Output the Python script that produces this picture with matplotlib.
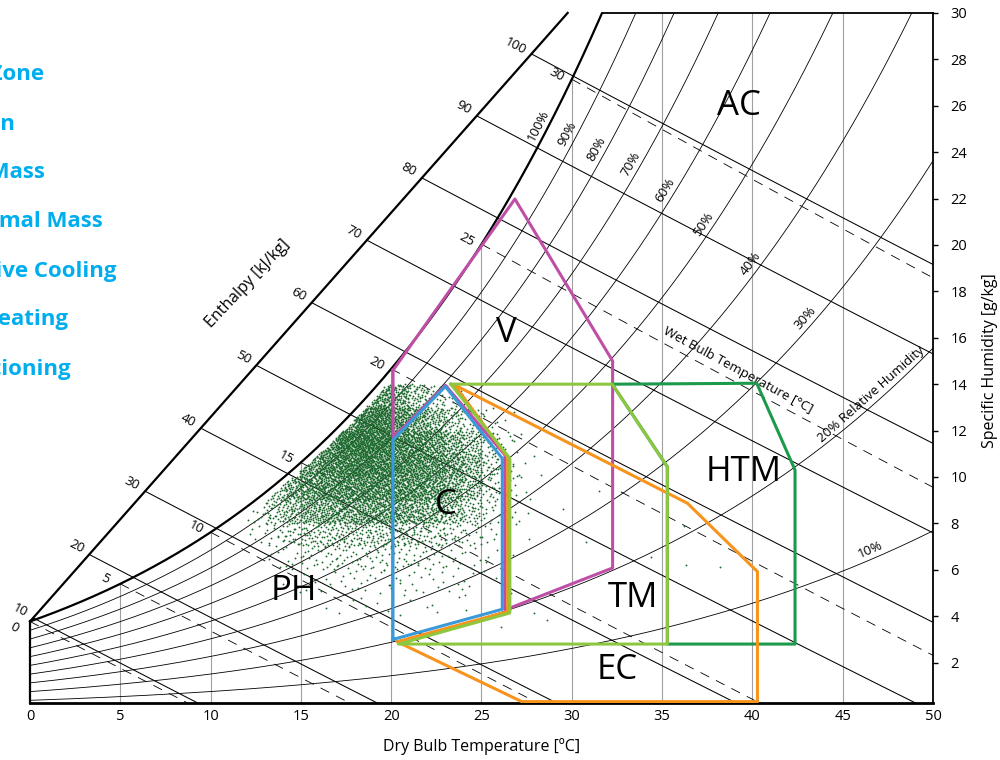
import numpy as np
import matplotlib
matplotlib.use("Agg")
import matplotlib.pyplot as plt

plt.rcParams["font.family"] = ["Open Sans", "DejaVu Sans"]
plt.rcParams["lines.scale_dashes"] = False

# ---------------- chart scales ----------------
temp_ticks = [0, 5, 10, 15, 20, 25, 30, 35, 40, 45, 50]
hum_ticks = [2, 4, 6, 8, 10, 12, 14, 16, 18, 20, 22, 24, 26, 28, 30]
rh_levels = [10, 20, 30, 40, 50, 60, 70, 80, 90, 100]
rh_labels = ["10%", "20% Relative Humidity", "30%", "40%", "50%",
             "60%", "70%", "80%", "90%", "100%"]
enthalpy_levels = [10, 20, 30, 40, 50, 60, 70, 80, 90, 100]
wetbulb_levels = [0, 5, 10, 15, 20, 25, 30]

# ---------------- strategy zones (dry bulb degC, humidity g/kg) ----------------
comfort_T = [20.1, 20.1, 23.0, 26.15, 26.15, 20.1]
comfort_w = [3.0, 11.6, 13.9, 10.8, 4.3, 3.0]

vent_T = [20.1, 26.85, 32.26, 32.26, 26.3, 26.3, 23.0, 20.1, 20.1]
vent_w = [14.6, 21.98, 15.0, 6.08, 4.27, 10.95, 13.95, 11.7, 14.6]

mass_T = [23.3, 32.24, 35.29, 35.29, 20.4, 26.57, 26.57, 23.3]
mass_w = [14.0, 14.0, 10.44, 2.8, 2.8, 4.14, 10.8, 14.0]

high_mass_T = [32.24, 40.24, 42.36, 42.36, 35.29, 35.29, 32.24]
high_mass_w = [14.0, 14.04, 10.3, 2.8, 2.8, 10.44, 14.0]

evap_T = [23.5, 36.4, 40.28, 40.28, 27.23, 20.33, 26.45, 26.45, 23.5]
evap_w = [13.97, 8.87, 5.92, 0.32, 0.32, 2.9, 4.2, 10.85, 13.97]

zone_names = ["AC", "V", "HTM", "C", "PH", "TM", "EC"]
zone_T = [39.25, 26.4, 39.5, 23.0, 14.6, 33.4, 32.5]
zone_w = [26.0, 16.2, 10.2, 8.8, 5.1, 4.8, 1.7]

legend_names = ["C: Comfort Zone", "V: Ventilation", "TM: Thermal Mass",
                "HTM: High Thermal Mass", "EC: Evaporative Cooling",
                "PH: Passive Heating", "AC: Air Conditioning"]

# ---------------- hourly climate records ----------------
# counts read per 1 degC x 1 g/kg cell
cell_T0 = [12, 13, 14, 15, 16, 17, 18, 19, 20, 21, 22, 23, 24, 25, 26, 27]
cell_w0 = [13, 12, 11, 10, 9, 8, 7, 6, 5, 4]
cell_counts = [
    [0, 0, 0, 0, 10, 40, 100, 120, 90, 50, 25, 8, 2, 0, 0, 0],
    [0, 0, 0, 10, 40, 120, 180, 180, 140, 100, 70, 40, 20, 8, 2, 0],
    [0, 0, 30, 80, 140, 200, 220, 200, 160, 140, 120, 80, 50, 20, 8, 1],
    [0, 25, 70, 120, 160, 180, 200, 180, 160, 150, 130, 100, 70, 30, 10, 3],
    [15, 50, 85, 115, 135, 145, 150, 150, 145, 135, 115, 85, 55, 22, 9, 3],
    [12, 35, 60, 80, 92, 100, 105, 105, 100, 90, 75, 55, 32, 14, 6, 2],
    [5, 14, 24, 32, 36, 38, 38, 38, 36, 32, 26, 19, 12, 6, 3, 1],
    [0, 4, 8, 12, 14, 14, 14, 14, 13, 12, 10, 8, 5, 3, 2, 0],
    [0, 0, 2, 4, 5, 6, 6, 6, 6, 5, 5, 4, 3, 2, 1, 0],
    [0, 0, 0, 0, 1, 2, 2, 2, 2, 2, 2, 1, 1, 0, 0, 0],
]
outlier_T = [27.9, 28.6, 26.1, 24.1, 34.4, 36.3, 38.2, 36.2, 29.5, 30.8, 28.3, 31.5]
outlier_w = [4.15, 3.84, 3.55, 4.9, 6.55, 6.2, 6.1, 7.9, 8.6, 7.2, 10.1, 9.4]


# ---------------- psychrometrics ----------------
def p_ws(T):
    return 0.61094 * np.exp(17.625 * T / (T + 243.04))


def w_rh(T, rh):
    p = rh / 100.0 * p_ws(T)
    return 622.0 * p / (101.325 - p)


def w_h(T, h):
    return (h - 1.006 * T) * 1000.0 / (2501.0 + 1.86 * T)


def w_wb(T, tw):
    ws = w_rh(tw, 100)
    return ((2501.0 - 2.326 * tw) * ws - 1006.0 * (T - tw)) / (2501.0 + 1.86 * T - 4.186 * tw)


def bisect(f, a, b):
    for _ in range(60):
        m = 0.5 * (a + b)
        if f(a) * f(m) <= 0:
            b = m
        else:
            a = m
    return 0.5 * (a + b)


def halton(i, base):
    f, r = 1.0, 0.0
    while i > 0:
        f /= base
        r += f * (i % base)
        i //= base
    return r


W_MIN, W_MAX = 0.26, 30.0
ws0 = w_rh(0.0, 100)
scale_top_T = 29.77
scale_k = (W_MAX - ws0) / scale_top_T


def scale_w(T):
    return ws0 + scale_k * T


T_sat_top = bisect(lambda t: w_rh(t, 100) - W_MAX, 20, 40)

# ---------------- figure ----------------
fig = plt.figure(figsize=(10, 7.6), dpi=100)
ax = fig.add_axes([0.030, 0.075, 0.903, 0.908])
ax.set_xlim(0, 50)
ax.set_ylim(W_MIN, W_MAX)
fig.canvas.draw()


def screen_angle(T1, w1, T2, w2):
    a = ax.transData.transform((T1, w1))
    b = ax.transData.transform((T2, w2))
    return np.degrees(np.arctan2(b[1] - a[1], b[0] - a[0]))


# vertical dry bulb lines
for t in temp_ticks[1:-1]:
    ax.plot([t, t], [0, min(w_rh(t, 100), W_MAX)], color="#a0a0a0", lw=0.8, zorder=1)

# relative humidity curves
Tc = np.linspace(0, 50, 500)
for rh in rh_levels:
    if rh == 100:
        ax.plot(Tc, w_rh(Tc, rh), color="black", lw=1.6, zorder=3)
    else:
        ax.plot(Tc, w_rh(Tc, rh), color="black", lw=0.6, zorder=2)

# enthalpy lines
for h in enthalpy_levels:
    t0 = bisect(lambda t: w_h(t, h) - scale_w(t), 0, 35)
    Th = np.linspace(t0, 50, 200)
    ax.plot(Th, w_h(Th, h), color="black", lw=0.75, zorder=2)
    ang = screen_angle(t0, w_h(t0, h), t0 + 1, w_h(t0 + 1, h))
    s = str(h)
    ax.annotate(s, (t0, scale_w(t0)), xytext=(-(6 + 3.5 * len(s)) * 0.72, 8 * 0.72),
                textcoords="offset points", rotation=ang, ha="center", va="center",
                fontsize=9.5, annotation_clip=False)

# wet bulb lines
for tw in wetbulb_levels:
    Tw = np.linspace(tw, 50, 200)
    ax.plot(Tw, w_wb(Tw, tw), color="black", lw=0.6, dashes=(7, 5.5), zorder=2)
    ang = screen_angle(tw, w_wb(tw, tw), tw + 1, w_wb(tw + 1, tw))
    off = (-16, -6) if tw == 0 else (-15, 5)
    ax.annotate(str(tw), (tw, w_rh(tw, 100)), xytext=(off[0] * 0.72, off[1] * 0.72),
                textcoords="offset points", rotation=ang, ha="center", va="center",
                fontsize=9.5, annotation_clip=False)

# frame pieces
ax.plot([0, scale_top_T], [ws0, W_MAX], color="black", lw=1.6, zorder=3, clip_on=False)
ax.plot([T_sat_top, 50], [W_MAX, W_MAX], color="black", lw=1.3, zorder=3, clip_on=False)
ax.plot([0, 0], [W_MIN, ws0], color="black", lw=1.6, zorder=3, clip_on=False)

# RH labels
rh_label_T = [46.7, 46.9, 43.3, 40.3, 37.7, 35.6, 33.7, 31.8, 30.2, 28.6]
for rh, txt, t in zip(rh_levels, rh_labels, rh_label_T):
    w = w_rh(t, rh)
    ang = screen_angle(t, w, t + 0.1, w_rh(t + 0.1, rh))
    d = 9
    nx, ny = -np.sin(np.radians(ang)) * d, np.cos(np.radians(ang)) * d
    ax.annotate(txt, (t, w), xytext=(nx * 0.72, ny * 0.72), textcoords="offset points",
                rotation=ang, ha="center", va="center", fontsize=9.5)

wb_ang = screen_angle(30, w_wb(30, 25), 40, w_wb(40, 25))
ax.text(39.2, 14.6, "Wet Bulb Temperature [°C]", rotation=wb_ang, rotation_mode="anchor",
        ha="center", va="center", fontsize=9.5)
ax.text(12.07, 18.32, "Enthalpy [kJ/kg]", rotation=46.5, rotation_mode="anchor",
        ha="center", va="center", fontsize=11.5)

# climate records: cell counts spread evenly inside each cell
pts_T, pts_w = [], []
i = 0
for r, w0 in enumerate(cell_w0):
    for c, t0 in enumerate(cell_T0):
        for _ in range(cell_counts[r][c]):
            i += 1
            pts_T.append(t0 + halton(i, 2))
            pts_w.append(w0 + halton(i, 3))
pts_T = np.array(pts_T + outlier_T)
pts_w = np.array(pts_w + outlier_w)
keep = pts_w <= w_rh(pts_T, 97)
ax.scatter(pts_T[keep], pts_w[keep], s=1.8, color="#1d6a2e", linewidths=0, zorder=4)

# zones
ax.plot(vent_T, vent_w, color="#bf4fa6", lw=2.2, zorder=5)
ax.plot(high_mass_T, high_mass_w, color="#1b9a4b", lw=2.2, zorder=5)
ax.plot(evap_T, evap_w, color="#f7941d", lw=2.2, zorder=6)
ax.plot(mass_T, mass_w, color="#8dc63f", lw=2.2, zorder=7)
ax.plot(comfort_T, comfort_w, color="#3a9ad9", lw=2.2, zorder=8)

for name, t, w in zip(zone_names, zone_T, zone_w):
    ax.text(t, w, name, ha="center", va="center", fontsize=25, zorder=9)

# axes
for side in ["left", "top"]:
    ax.spines[side].set_visible(False)
ax.spines["bottom"].set_linewidth(2.0)
ax.spines["right"].set_linewidth(1.3)
ax.set_xticks(temp_ticks)
ax.set_yticks(hum_ticks)
ax.yaxis.tick_right()
ax.tick_params(axis="x", length=0, pad=4, labelsize=10.5)
ax.tick_params(axis="y", length=3.6, width=1, pad=9, labelsize=10.5)

fig.text(0.4815, 1 - 747 / 760, "Dry Bulb Temperature [ºC]", ha="center", va="center", fontsize=11.5)
fig.text(0.990, 1 - 361 / 760, "Specific Humidity [g/kg]", rotation=90, ha="center",
         va="center", fontsize=11.5)

# legend (runs off the left edge, as in the source)
legend_right = [44, 15, 45, 103, 117, 68, 71]
for k, (txt, xr) in enumerate(zip(legend_names, legend_right)):
    fig.text(xr / 1000, 1 - (80.5 + 49 * k) / 760, txt, ha="right", va="baseline",
             fontsize=16, fontweight="bold", color="#00aeef")

fig.savefig("out.png", dpi=100)
